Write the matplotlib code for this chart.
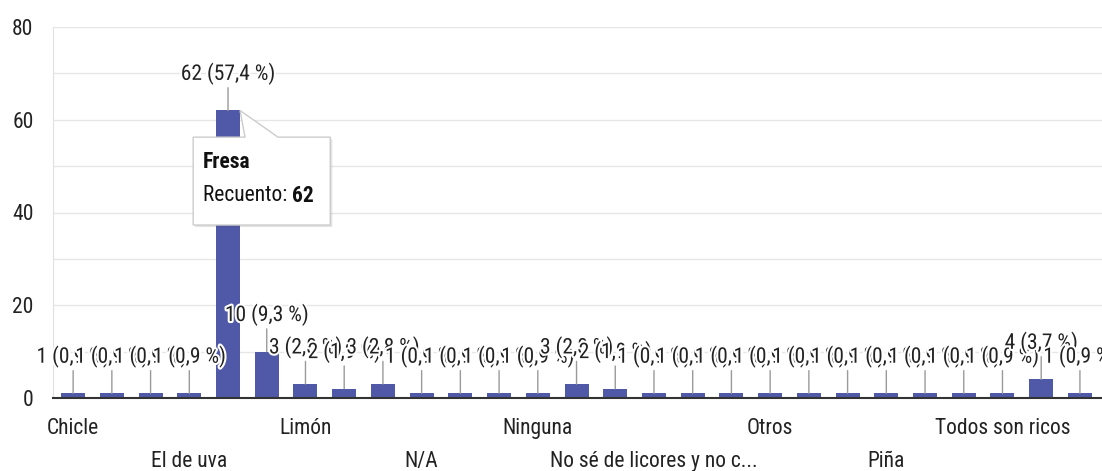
"""
Recuento de respuestas por sabor, estilo gráfico de Google Forms.
"""
import matplotlib
matplotlib.use("Agg")
import matplotlib.pyplot as plt
import matplotlib.patheffects as pe
from matplotlib.patches import Polygon
from matplotlib.ticker import MultipleLocator

plt.rcParams["font.family"] = ["Roboto Condensed", "DejaVu Sans"]

# Datos (orden alfabético)
categorias = [
    "Chicle", "Coco", "Durazno", "El de uva", "Fresa", "Frutos rojos",
    "Limón", "Mango", "Maracuyá", "N/A", "Naranja", "Nata", "Ninguna",
    "Ninguno", "No me gusta", "No sé de licores y no c...", "Nuez",
    "Original", "Otros", "Pepino", "Pera", "Piña", "Sandía", "Tamarindo",
    "Todos son ricos", "Uva", "Vainilla",
]
recuentos = [1, 1, 1, 1, 62, 10, 3, 2, 3, 1, 1, 1, 1, 3, 2, 1, 1, 1,
             1, 1, 1, 1, 1, 1, 1, 4, 1]

COLOR_BARRA = "#5059a8"
COLOR_TEXTO = "#222222"
FS = 15.5


def pct(v, total):
    return f"{100 * v / total:.1f}".replace(".", ",")


fig = plt.figure(figsize=(11.02, 4.71), dpi=100)
ax = fig.add_axes([53 / 1102, 73 / 471, 1 - 53 / 1102, (444 - 73) / 471])

x = list(range(len(categorias)))
ancho = 0.62
ax.bar(x, recuentos, width=ancho, color=COLOR_BARRA, zorder=3)

total = sum(recuentos)
halo = [pe.withStroke(linewidth=3, foreground="white")]
for i, v in enumerate(recuentos):
    ax.annotate(
        f"{v} ({pct(v, total)} %)",
        xy=(i, v), xytext=(0, 37), textcoords="offset pixels",
        ha="center", va="center", fontsize=FS, color=COLOR_TEXTO,
        zorder=5 + i * 0.01, path_effects=halo,
        arrowprops=dict(arrowstyle="-", color="#9a9a9a", lw=1,
                        shrinkA=0, shrinkB=0, relpos=(0.5, 0)),
    )

# Tooltip sobre la barra más alta
i_max = recuentos.index(max(recuentos))
v_max = recuentos[i_max]
x0, x1 = i_max - 0.90, i_max + 2.64
y0, y1 = 37.3, 56.25
tip = [(x0, y0), (x1, y0), (x1, y1), (i_max + 1.29, y1),
       (i_max + ancho / 2, v_max), (i_max + 0.44, y1), (x0, y1)]
tooltip = Polygon(tip, closed=True, facecolor="white", edgecolor="#cccccc",
                  lw=1, zorder=10,
                  path_effects=[pe.SimplePatchShadow(offset=(1.5, -1.5), alpha=0.15),
                                pe.Normal()])
ax.add_patch(tooltip)
t1 = ax.text(i_max - 0.64, 50.8, categorias[i_max], fontsize=FS,
             fontweight="bold", color="#111111", va="center", ha="left", zorder=11)
t2 = ax.text(i_max - 0.64, 43.6, "Recuento: ", fontsize=FS,
             color="#111111", va="center", ha="left", zorder=11)
ax.annotate(str(v_max), xy=(1, 0.5), xycoords=t2, va="center", ha="left",
            fontsize=FS, fontweight="bold", color="#111111", zorder=11)

# Ejes
ax.set_xlim(-0.52, len(categorias) - 0.43)
ax.set_ylim(0, 80)
ax.yaxis.set_major_locator(MultipleLocator(20))
ax.yaxis.set_minor_locator(MultipleLocator(10))
ax.grid(axis="y", which="both", color="#e6e6e6", lw=1, zorder=0)
ax.set_axisbelow(True)

fila1 = x[0::6]
fila2 = x[3::6]
ax.set_xticks(fila1, [categorias[i] for i in fila1])
ax.set_xticks(fila2, [categorias[i] for i in fila2], minor=True)
ax.tick_params(axis="x", which="major", length=0, pad=14.5, labelsize=FS,
               labelcolor=COLOR_TEXTO)
ax.tick_params(axis="x", which="minor", length=0, pad=38.5, labelsize=FS,
               labelcolor=COLOR_TEXTO)
ax.tick_params(axis="y", which="both", length=0, pad=14, labelsize=FS,
               labelcolor=COLOR_TEXTO)

for s in ("top", "right"):
    ax.spines[s].set_visible(False)
ax.spines["left"].set_color("#e0e0e0")
ax.spines["bottom"].set_color("#333333")
ax.spines["bottom"].set_linewidth(1.5)
ax.spines["bottom"].set_zorder(4)

fig.savefig("out.png", dpi=100)
plt.close(fig)
